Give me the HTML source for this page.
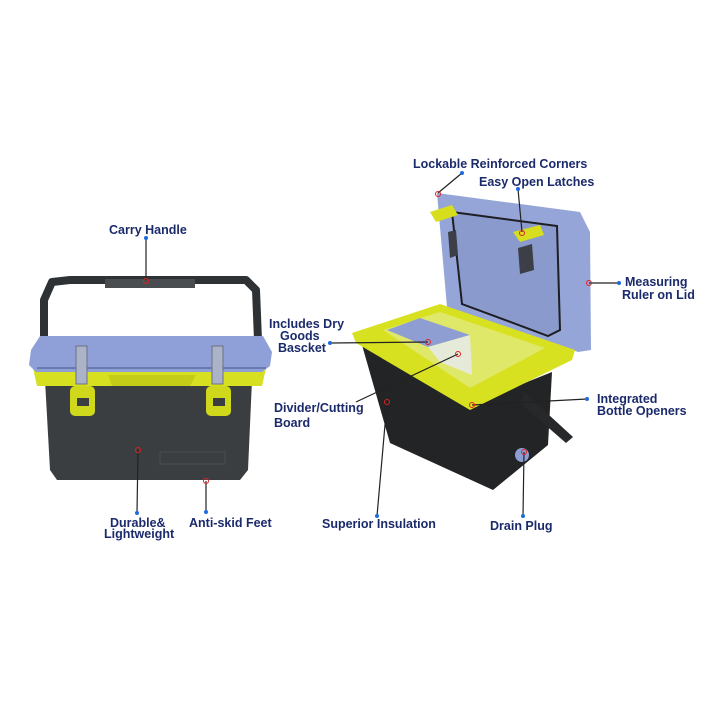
<!DOCTYPE html>
<html><head><style>
body{margin:0;background:#fff;}
svg{display:block}
text{font-family:"Liberation Sans",sans-serif;font-weight:bold;font-size:12.5px;fill:#1b2a6b}
</style></head><body>
<svg width="720" height="720" viewBox="0 0 720 720">
<!-- LEFT COOLER -->
<path d="M44,340 L44,300 L52,282 L70,280 L246,280 L256,290 L258,340" fill="none" stroke="#2f3235" stroke-width="8" stroke-linejoin="round"/>
<rect x="105" y="279" width="90" height="9" fill="#4a4d50"/>
<path d="M45,380 L252,380 L248,470 L240,480 L57,480 L50,470 Z" fill="#3b3e41"/>
<path d="M33,368 L266,368 L262,386 L37,386 Z" fill="#d7e020"/>
<path d="M108,375 L196,375 L190,386 L112,386 Z" fill="#c4cc18"/>
<path d="M40,336 L263,336 L272,352 L270,366 L262,372 L36,372 L29,365 L31,350 Z" fill="#8fa0d8"/>
<path d="M37,368 L266,368" stroke="#6b7bb0" stroke-width="2"/>
<rect x="70" y="386" width="25" height="30" rx="5" fill="#d0d81c"/>
<rect x="77" y="398" width="12" height="8" fill="#3b3e41"/>
<rect x="206" y="386" width="25" height="30" rx="5" fill="#d0d81c"/>
<rect x="213" y="398" width="12" height="8" fill="#3b3e41"/>
<rect x="76" y="346" width="11" height="38" fill="#aab3c7" stroke="#6a7280" stroke-width="1"/>
<rect x="212" y="346" width="11" height="38" fill="#aab3c7" stroke="#6a7280" stroke-width="1"/>
<rect x="160" y="452" width="65" height="12" fill="none" stroke="#4a4d50"/>
<!-- RIGHT COOLER -->
<path d="M437,193 L580,212 L590,232 L591,350 L578,352 L560,345 L447,307 Z" fill="#95a5d8"/>
<path d="M452,212 L557,226 L560,330 L548,336 L462,304 Z" fill="#8a9acd" stroke="#1d1f22" stroke-width="2"/>
<path d="M430,212 L452,205 L458,215 L436,222 Z" fill="#d6de1e"/>
<path d="M513,232 L540,225 L544,235 L520,242 Z" fill="#d6de1e"/>
<path d="M518,248 L532,244 L534,270 L520,274 Z" fill="#3c3f47"/>
<path d="M448,232 L456,230 L458,255 L450,258 Z" fill="#3c3f47"/>
<path d="M362,345 L470,405 L552,372 L548,445 L493,490 L390,443 Z" fill="#222426"/>
<path d="M352,333 L440,304 L575,350 L572,360 L470,410 L356,343 Z" fill="#d8e11f"/>
<path d="M383,330 L440,312 L545,348 L470,388 Z" fill="#e0e86a"/>
<path d="M387,330 L420,318 L470,335 L428,347 Z" fill="#8e9ed2"/>
<path d="M428,347 L470,335 L472,375 L440,362 Z" fill="#e6ead9"/>
<path d="M525,393 L573,437 L566,443 L520,403 Z" fill="#262829"/>
<circle cx="522" cy="455" r="7" fill="#8d9ed5"/>
<!-- connectors -->
<g stroke="#222" stroke-width="1.2" fill="none">
<line x1="146" y1="238" x2="146" y2="280"/>
<line x1="138" y1="450" x2="137" y2="513"/>
<line x1="206" y1="481" x2="206" y2="512"/>
<line x1="462" y1="173" x2="438" y2="193"/>
<line x1="518" y1="189" x2="522" y2="232"/>
<line x1="589" y1="283" x2="619" y2="283"/>
<line x1="331" y1="343" x2="428" y2="342"/>
<line x1="356" y1="402" x2="458" y2="354"/>
<line x1="587" y1="399" x2="472" y2="405"/>
<line x1="387" y1="402" x2="377" y2="516"/>
<line x1="524" y1="452" x2="523" y2="516"/>
</g>
<g fill="none" stroke="#d22" stroke-width="1">
<circle cx="146" cy="281" r="2.5"/><circle cx="138" cy="450" r="2.5"/><circle cx="206" cy="481" r="2.5"/>
<circle cx="438" cy="194" r="2.5"/><circle cx="522" cy="233" r="2.5"/><circle cx="589" cy="283" r="2.5"/>
<circle cx="428" cy="342" r="2.5"/><circle cx="458" cy="354" r="2.5"/><circle cx="472" cy="405" r="2.5"/>
<circle cx="387" cy="402" r="2.5"/><circle cx="524" cy="452" r="2.5"/>
</g>
<g fill="#1e6ae0">
<circle cx="146" cy="238" r="2"/><circle cx="137" cy="513" r="2"/><circle cx="206" cy="512" r="2"/>
<circle cx="462" cy="173" r="2"/><circle cx="518" cy="189" r="2"/><circle cx="619" cy="283" r="2"/>
<circle cx="330" cy="343" r="2"/><circle cx="587" cy="399" r="2"/><circle cx="377" cy="516" r="2"/><circle cx="523" cy="516" r="2"/>
</g>
<text x="109" y="234">Carry Handle</text>
<text x="110" y="527">Durable&amp;</text>
<text x="104" y="538">Lightweight</text>
<text x="189" y="527">Anti-skid Feet</text>
<text x="413" y="168">Lockable Reinforced Corners</text>
<text x="479" y="186">Easy Open Latches</text>
<text x="625" y="286">Measuring</text>
<text x="622" y="299">Ruler on  Lid</text>
<text x="269" y="328">Includes Dry</text>
<text x="280" y="340">Goods</text>
<text x="278" y="352">Bascket</text>
<text x="274" y="412">Divider/Cutting</text>
<text x="274" y="427">Board</text>
<text x="597" y="403">Integrated</text>
<text x="597" y="415">Bottle Openers</text>
<text x="322" y="528">Superior Insulation</text>
<text x="490" y="530">Drain Plug</text>
</svg>
</body></html>
